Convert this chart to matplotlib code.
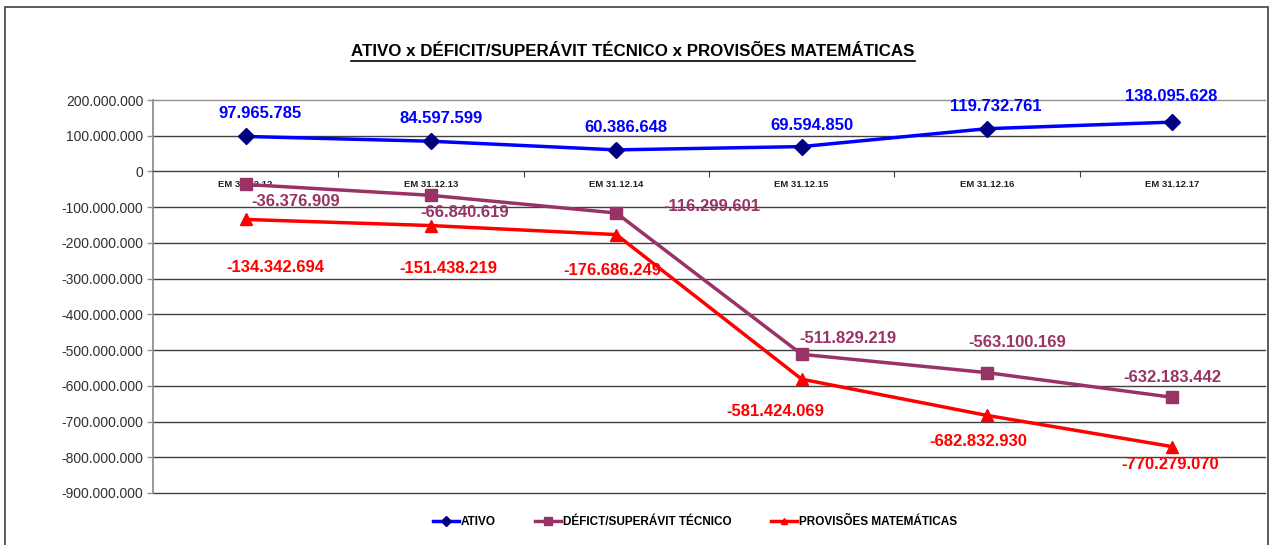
import matplotlib
matplotlib.use("Agg")
import matplotlib.pyplot as plt
from matplotlib.lines import Line2D
from matplotlib.patches import Rectangle
from matplotlib.ticker import FuncFormatter, FixedLocator

plt.rcParams['font.family'] = ['Liberation Sans', 'DejaVu Sans']

categories = ["EM 31.12.12", "EM 31.12.13", "EM 31.12.14", "EM 31.12.15", "EM 31.12.16", "EM 31.12.17"]
ativo = [97965785, 84597599, 60386648, 69594850, 119732761, 138095628]
deficit = [-36376909, -66840619, -116299601, -511829219, -563100169, -632183442]
provisoes = [-134342694, -151438219, -176686249, -581424069, -682832930, -770279070]
series_names = ["ATIVO", "DÉFICT/SUPERÁVIT TÉCNICO", "PROVISÕES MATEMÁTICAS"]

def fmt(v):
    s = f"{abs(int(v)):,}".replace(",", ".")
    return ("-" if v < 0 else "") + s

W, H = 1272, 545
fig = plt.figure(figsize=(W / 100, H / 100), dpi=100)
fig.patch.set_facecolor("white")
# outer border
fig.add_artist(Rectangle((5 / W, -0.05), (1268 - 5) / W, 1.05 - 7 / H, transform=fig.transFigure,
                         fill=False, edgecolor="#404040", linewidth=1.2))

ax = fig.add_axes([153 / W, (H - 493) / H, (1265 - 153) / W, (493 - 100) / H])
x = list(range(len(categories)))
ax.set_xlim(-0.5, len(categories) - 0.5)
ax.set_ylim(-900e6, 200e6)

# gridlines
for yv in range(-900, 201, 100):
    if yv == 0:
        continue
    ax.axhline(yv * 1e6, color="#404040" if yv != 200 else "#909090", lw=1.0, zorder=1, clip_on=False)

for s in ["top", "right"]:
    ax.spines[s].set_visible(False)
ax.spines["left"].set_color("#909090")
ax.spines["left"].set_linewidth(1.3)
ax.spines["bottom"].set_position(("data", 0))
ax.spines["bottom"].set_color("#404040")
ax.spines["bottom"].set_linewidth(1.0)

ax.yaxis.set_major_locator(FixedLocator([v * 1e6 for v in range(-900, 201, 100)]))
ax.yaxis.set_major_formatter(FuncFormatter(lambda v, p: fmt(v)))
ax.tick_params(axis="y", labelsize=10, colors="#303030", length=4, width=1, color="#909090", pad=3)

ax.xaxis.set_major_locator(FixedLocator([i + 0.5 for i in range(len(categories) - 1)]))
ax.xaxis.set_minor_locator(FixedLocator(x))
ax.set_xticks(x, minor=True)
ax.set_xticklabels(categories, minor=True)
ax.set_xticklabels([""] * (len(categories) - 1))
ax.tick_params(axis="x", which="major", direction="out", length=4, color="#404040")
ax.tick_params(axis="x", which="minor", length=0, labelsize=6.8, pad=6, colors="#202020")
for lab in ax.get_xticklabels(minor=True):
    lab.set_fontweight("bold")

l1, = ax.plot(x, ativo, color="#0000FF", lw=2.5, marker="D", ms=8, mfc="#000080", mec="#000080", zorder=5)
l2, = ax.plot(x, deficit, color="#993366", lw=2.5, marker="s", ms=9, mfc="#993366", mec="#993366", zorder=4)
l3, = ax.plot(x, provisoes, color="#FF0000", lw=2.5, marker="^", ms=8, mfc="#FF0000", mec="#FF0000", zorder=4)

# data labels (offsets in pixels -> points)
def lab(xi, yi, dx, dy, color, weight):
    ax.annotate(fmt(yi), (xi, yi), xytext=(dx * 0.72, dy * 0.72), textcoords="offset points",
                ha="center", va="center", fontsize=12, color=color, fontweight=weight, zorder=6)

ativo_off = [(14, 23), (10, 23), (10, 22), (10, 21), (9, 22), (-1, 26)]
def_off = [(50, -17), (34, -17), (96, 7), (46, 16), (30, 30), (0, 20)]
prov_off = [(30, -48), (17, -43), (-4, -36), (-26, -32), (-9, -26), (-2, -18)]
for i in x:
    lab(i, ativo[i], *ativo_off[i], "#0000FF", "bold")
    lab(i, deficit[i], *def_off[i], "#993366", "bold")
    lab(i, provisoes[i], *prov_off[i], "#FF0000", "bold")

# legend
leg = fig.legend([l1, l2, l3], series_names, loc="center", bbox_to_anchor=(695 / W, (H - 522) / H),
                 ncol=3, frameon=False, fontsize=8.5, handlelength=2.2, columnspacing=3.3,
                 markerscale=0.6, handletextpad=0.2)
for t in leg.get_texts():
    t.set_fontweight("bold")

# title with underline
title = fig.text(633 / W, (H - 52) / H, "ATIVO x DÉFICIT/SUPERÁVIT TÉCNICO x PROVISÕES MATEMÁTICAS",
                 ha="center", va="center", fontsize=12.2, fontweight="bold", color="black")
fig.canvas.draw()
bb = title.get_window_extent(fig.canvas.get_renderer())
fig.add_artist(Line2D([bb.x0 / W, bb.x1 / W], [(bb.y0 - 1) / H, (bb.y0 - 1) / H],
                      transform=fig.transFigure, color="black", lw=1.2))

fig.savefig("out.png", dpi=100)
